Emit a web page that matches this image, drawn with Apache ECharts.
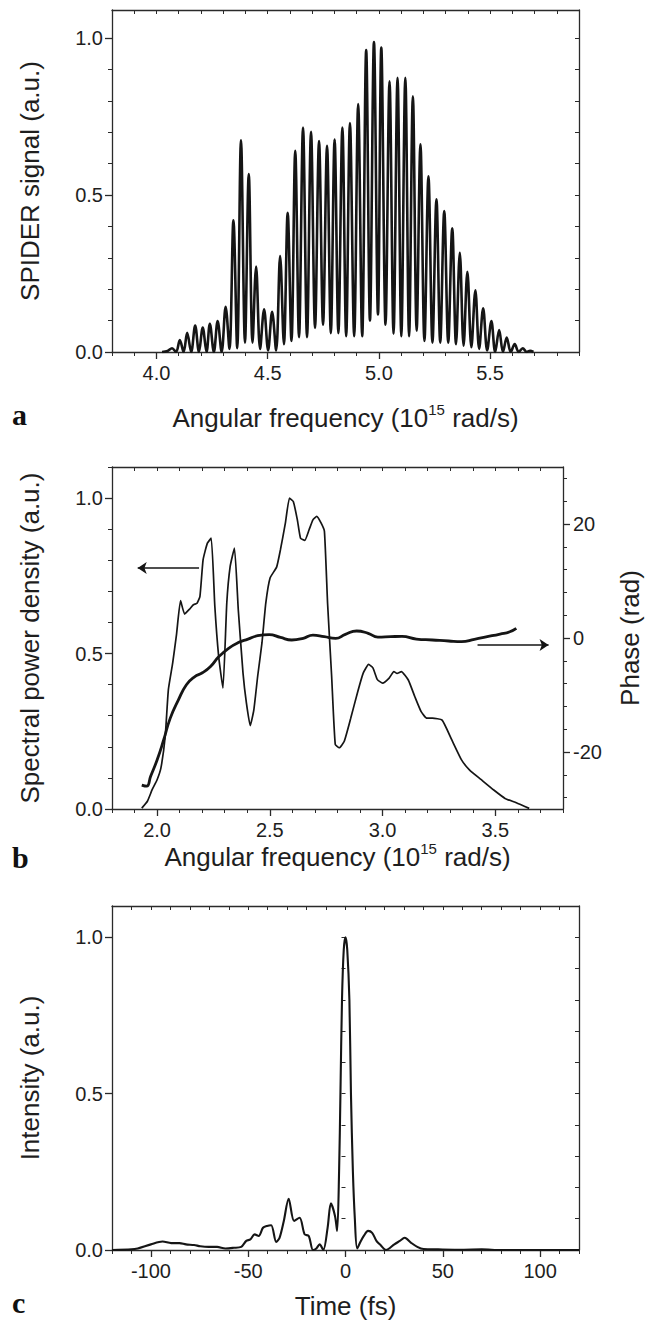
<!DOCTYPE html>
<html><head><meta charset="utf-8">
<script src="https://cdn.jsdelivr.net/npm/echarts@6/dist/echarts.min.js"></script>
<style>html,body{margin:0;padding:0;background:#fff}#c{width:654px;height:1324px}</style>
</head><body><div id="c"></div>
<script>
// ---------- Panel a: SPIDER interferogram ----------
const aFreq = [4.025,4.05,4.07,4.088,4.105,4.122,4.138,4.156,4.174,4.191,4.208,4.225,4.24,4.258,4.275,4.293,4.311,4.328,4.346,4.363,4.38,4.398,4.415,4.432,4.448,4.466,4.484,4.502,4.52,4.538,4.556,4.573,4.59,4.607,4.624,4.641,4.659,4.677,4.695,4.713,4.731,4.749,4.767,4.784,4.801,4.818,4.836,4.853,4.87,4.889,4.907,4.925,4.943,4.96,4.978,4.996,5.011,5.03,5.048,5.066,5.084,5.101,5.119,5.136,5.153,5.17,5.187,5.205,5.223,5.241,5.259,5.276,5.294,5.312,5.33,5.347,5.364,5.381,5.398,5.416,5.434,5.451,5.469,5.487,5.506,5.523,5.541,5.558,5.575,5.593,5.611,5.629,5.647,5.665,5.68,5.695];
const aSignal = [0,0.003,0.012,0,0.038,0,0.061,0,0.084,0,0.078,0,0.090,0,0.099,0,0.144,0.01,0.420,0.012,0.675,0.03,0.567,0.03,0.272,0.01,0.136,0.005,0.128,0.005,0.306,0.025,0.444,0.035,0.641,0.047,0.715,0.047,0.702,0.077,0.672,0.087,0.657,0.06,0.677,0.06,0.715,0.05,0.730,0.05,0.790,0.05,0.962,0.10,0.988,0.12,0.970,0.087,0.863,0.058,0.874,0.05,0.874,0.05,0.815,0.068,0.662,0.035,0.560,0.03,0.487,0.03,0.449,0.03,0.394,0.025,0.316,0.02,0.256,0.015,0.197,0.01,0.139,0.005,0.099,0,0.070,0,0.046,0,0.025,0,0.012,0,0.004,0];
const aXTicks = [4.0,4.5,5.0,5.5];
const aYTicks = [0.0,0.5,1.0];

// ---------- Panel b: spectrum and phase ----------
const bFreq = [1.932,1.957,1.978,2.0,2.017,2.036,2.05,2.069,2.086,2.104,2.122,2.144,2.161,2.177,2.19,2.204,2.223,2.24,2.256,2.273,2.292,2.309,2.324,2.343,2.36,2.381,2.396,2.413,2.429,2.446,2.465,2.482,2.501,2.53,2.547,2.569,2.587,2.604,2.622,2.636,2.655,2.674,2.691,2.708,2.727,2.742,2.756,2.774,2.79,2.808,2.83,2.858,2.89,2.914,2.938,2.957,2.977,3.0,3.029,3.05,3.064,3.083,3.114,3.143,3.171,3.196,3.221,3.264,3.307,3.35,3.386,3.436,3.493,3.543,3.593,3.65];
const bSpectrum = [0.003,0.025,0.062,0.094,0.132,0.234,0.384,0.469,0.561,0.670,0.627,0.643,0.657,0.662,0.684,0.802,0.855,0.871,0.652,0.491,0.389,0.662,0.780,0.839,0.641,0.437,0.341,0.268,0.319,0.427,0.534,0.662,0.743,0.778,0.834,0.920,1.0,0.989,0.930,0.871,0.864,0.898,0.930,0.941,0.920,0.893,0.662,0.427,0.208,0.197,0.218,0.29,0.378,0.437,0.465,0.454,0.416,0.405,0.421,0.442,0.436,0.442,0.415,0.361,0.313,0.292,0.292,0.286,0.222,0.158,0.125,0.095,0.061,0.034,0.020,0.002];
const bPhaseFreq = [1.932,1.954,1.971,2.0,2.029,2.058,2.094,2.13,2.166,2.201,2.237,2.273,2.317,2.36,2.403,2.446,2.497,2.547,2.597,2.648,2.691,2.741,2.792,2.835,2.885,2.936,2.979,3.036,3.086,3.15,3.221,3.293,3.35,3.407,3.464,3.521,3.564,3.593];
const bPhase = [-25.8,-26.0,-24.3,-21.4,-17.9,-14.1,-10.9,-8.2,-6.8,-6.1,-5.0,-3.3,-1.8,-0.8,-0.2,0.4,0.6,0.1,-0.35,-0.06,0.5,0.23,-0.06,0.64,1.23,0.82,0.15,0.23,0.29,-0.18,-0.35,-0.53,-0.64,-0.23,0.23,0.7,1.1,1.7];
const bXTicks = [2.0,2.5,3.0,3.5];
const bYTicks = [0.0,0.5,1.0];
const bPhaseTicks = [-20,0,20];
const bArrowLeft = [[2.186,0.775],[1.914,0.775]];     // spectrum axis units
const bArrowRight = [[3.421,-1.23],[3.736,-1.23]];    // phase axis units

// ---------- Panel c: temporal intensity ----------
const cTime = [-120,-110,-106.8,-100,-94,-89.6,-85.3,-82,-77.8,-74.6,-70.3,-66,-61.7,-57.4,-53.6,-51,-48.9,-46.7,-44.6,-42.4,-40.3,-38.2,-35.6,-33.9,-31.7,-29.2,-26.4,-23.6,-21,-18.9,-16.7,-15,-13.3,-11.4,-9.2,-7.5,-5.4,-4.3,-3.3,-2.6,-1.8,-0.9,0,0.9,2.0,2.8,3.8,4.8,6,7.9,9.4,11.6,13.7,15.9,18,20.8,25.1,27.9,30.4,33.7,36.9,40.1,47.6,60,70,80,120];
const cIntensity = [0,0.002,0.005,0.018,0.027,0.022,0.022,0.018,0.016,0.012,0.01,0.01,0.005,0.007,0.01,0.029,0.034,0.05,0.045,0.071,0.077,0.079,0.026,0.039,0.093,0.164,0.093,0.103,0.05,0.045,0,0.005,0.018,0,0.071,0.149,0.109,0.061,0.25,0.5,0.8,0.96,1.0,0.96,0.8,0.5,0.25,0.1,0.005,0.029,0.045,0.061,0.055,0.029,0.016,0,0.018,0.029,0.039,0.023,0.01,0.003,0.002,0.001,0.002,0,0];
const cXTicks = [-100,-50,0,50,100];
const cYTicks = [0.0,0.5,1.0];

// ---------- styling / layout ----------
const FF = '"Liberation Sans", Arial, Helvetica, sans-serif';
const AX = '#2a2a2a', TX = '#1e1e1e', LN = '#151515';
const titleStyle = {fontSize:26, fontFamily:FF, color:TX, lineHeight:32,
  rich:{sup:{fontSize:15, fontFamily:FF, color:TX, verticalAlign:'top', lineHeight:16}}};
const labelStyle = {fontSize:20, fontFamily:FF, color:TX};
function range(a,b,s){const r=[];for(let i=0;a+i*s<=b+1e-9;i++) r.push(Math.round((a+i*s)*1000)/1000);return r;}
const f1 = v => (+v).toFixed(1);
const f0 = v => String(Math.round(v));

function xSet(gi,min,max,majors,minors,fmt,name,gap){
  const line={show:true,onZero:false,lineStyle:{color:AX,width:1.3}};
  return [
    {gridIndex:gi,type:'value',min,max,position:'bottom',axisLine:line,
     axisTick:{show:true,inside:false,length:7,customValues:majors,lineStyle:{color:AX,width:1.3}},
     axisLabel:Object.assign({show:true,customValues:majors,formatter:fmt,margin:11},labelStyle),
     splitLine:{show:false},name,nameLocation:'middle',nameGap:gap,nameTextStyle:titleStyle},
    {gridIndex:gi,type:'value',min,max,position:'bottom',axisLine:{show:false},
     axisTick:{show:true,inside:false,length:4,customValues:minors,lineStyle:{color:AX,width:1}},
     axisLabel:{show:false},splitLine:{show:false}},
    {gridIndex:gi,type:'value',min,max,position:'top',axisLine:line,
     axisTick:{show:true,inside:true,length:4,customValues:minors,lineStyle:{color:AX,width:1}},
     axisLabel:{show:false},splitLine:{show:false}}
  ];
}
function yLeft(gi,min,max,majors,minors,name,gap){
  const line={show:true,onZero:false,lineStyle:{color:AX,width:1.3}};
  return [
    {gridIndex:gi,type:'value',min,max,position:'left',axisLine:line,
     axisTick:{show:true,inside:false,length:7,customValues:majors,lineStyle:{color:AX,width:1.3}},
     axisLabel:Object.assign({show:true,customValues:majors,formatter:f1,margin:9},labelStyle),
     splitLine:{show:false},name,nameLocation:'middle',nameGap:gap,nameTextStyle:titleStyle},
    {gridIndex:gi,type:'value',min,max,position:'left',axisLine:{show:false},
     axisTick:{show:true,inside:false,length:4,customValues:minors,lineStyle:{color:AX,width:1}},
     axisLabel:{show:false},splitLine:{show:false}}
  ];
}
function yRightInner(gi,min,max,minors){
  return {gridIndex:gi,type:'value',min,max,position:'right',
    axisLine:{show:true,onZero:false,lineStyle:{color:AX,width:1.3}},
    axisTick:{show:true,inside:true,length:4,customValues:minors,lineStyle:{color:AX,width:1}},
    axisLabel:{show:false},splitLine:{show:false}};
}

const xAxes = [].concat(
  xSet(0,3.8,5.9,aXTicks,range(3.8,5.9,0.1),f1,'Angular frequency (10{sup|15} rad/s)',50),
  xSet(1,1.8,3.8,bXTicks,range(1.8,3.8,0.1),f1,'Angular frequency (10{sup|15} rad/s)',32),
  xSet(2,-120,120,cXTicks,range(-120,120,10),f0,'Time (fs)',40)
);
const yAxes = [].concat(
  yLeft(0,0,1.09,aYTicks,range(0,1.09,0.1),'SPIDER signal (a.u.)',66),   // 0,1
  [yRightInner(0,0,1.09,range(0,1.09,0.1))],                                  // 2
  yLeft(1,0,1.1,bYTicks,range(0,1.1,0.1),'Spectral power density (a.u.)',66), // 3,4
  [{gridIndex:1,type:'value',min:-30,max:30,position:'right',                 // 5
    axisLine:{show:true,onZero:false,lineStyle:{color:AX,width:1.3}},
    axisTick:{show:true,inside:false,length:7,customValues:bPhaseTicks,lineStyle:{color:AX,width:1.3}},
    axisLabel:Object.assign({show:true,customValues:bPhaseTicks,formatter:f0,margin:10},labelStyle),
    splitLine:{show:false},name:'Phase (rad)',nameLocation:'middle',nameGap:51,nameTextStyle:titleStyle},
   {gridIndex:1,type:'value',min:-30,max:30,position:'right',axisLine:{show:false},   // 6
    axisTick:{show:true,inside:false,length:4,customValues:range(-28,28,4),lineStyle:{color:AX,width:1}},
    axisLabel:{show:false},splitLine:{show:false}}],
  yLeft(2,0,1.1,cYTicks,range(0,1.1,0.1),'Intensity (a.u.)',66),            // 7,8
  [yRightInner(2,0,1.1,range(0,1.1,0.1))]                                     // 9
);

const pairs = (xs,ys) => xs.map((x,i)=>[x,ys[i]]);
const lineBase = {type:'line',symbol:'none',showSymbol:false,silent:true,animation:false};

const option = {
  animation:false,
  backgroundColor:'#fff',
  grid:[
    {left:112,right:75,top:10,height:342},
    {left:112,right:75,top:467,height:342},
    {left:112,right:75,top:906,height:344}
  ],
  xAxis:xAxes,
  yAxis:yAxes,
  series:[
    Object.assign({},lineBase,{xAxisIndex:0,yAxisIndex:0,smooth:0.35,data:pairs(aFreq,aSignal),lineStyle:{color:LN,width:2.6}}),
    Object.assign({},lineBase,{xAxisIndex:3,yAxisIndex:3,smooth:0.15,data:pairs(bFreq,bSpectrum),lineStyle:{color:LN,width:1.7}}),
    Object.assign({},lineBase,{xAxisIndex:3,yAxisIndex:5,smooth:0.5,data:pairs(bPhaseFreq,bPhase),lineStyle:{color:LN,width:2.8}}),
    {type:'lines',coordinateSystem:'cartesian2d',xAxisIndex:3,yAxisIndex:3,silent:true,
     symbol:['none','arrow'],symbolSize:9,lineStyle:{color:LN,width:1.6,opacity:1},
     data:[{coords:bArrowLeft}]},
    {type:'lines',coordinateSystem:'cartesian2d',xAxisIndex:3,yAxisIndex:5,silent:true,
     symbol:['none','arrow'],symbolSize:9,lineStyle:{color:LN,width:1.6,opacity:1},
     data:[{coords:bArrowRight}]},
    Object.assign({},lineBase,{xAxisIndex:6,yAxisIndex:7,smooth:0.3,data:pairs(cTime,cIntensity),lineStyle:{color:LN,width:2.1}})
  ],
  graphic:[
    {type:'text',left:12,top:399,style:{text:'a',font:'bold 30px "Liberation Serif","Times New Roman",serif',fill:'#111'}},
    {type:'text',left:12,top:842,style:{text:'b',font:'bold 30px "Liberation Serif","Times New Roman",serif',fill:'#111'}},
    {type:'text',left:12,top:1287,style:{text:'c',font:'bold 30px "Liberation Serif","Times New Roman",serif',fill:'#111'}}
  ]
};
const chart = echarts.init(document.getElementById('c'), null, {renderer:'svg'});
chart.setOption(option);
</script></body></html>
